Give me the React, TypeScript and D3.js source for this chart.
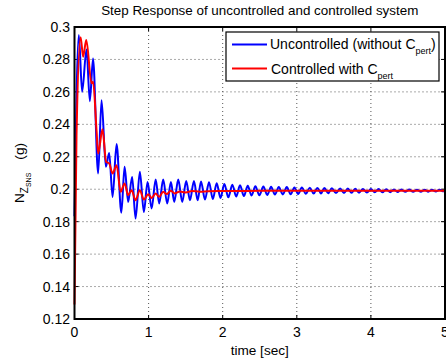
import React from "react";
import * as d3 from "d3";

const xTicks = [0, 1, 2, 3, 4, 5];
const yTicks = [0.12, 0.14, 0.16, 0.18, 0.2, 0.22, 0.24, 0.26, 0.28, 0.3];
const yTickLabels = ["0.12", "0.14", "0.16", "0.18", "0.2", "0.22", "0.24", "0.26", "0.28", "0.3"];

// Uncontrolled (blue) – extrema
const blueTime = [
  0, 0.058, 0.103, 0.162, 0.207, 0.25, 0.319, 0.365, 0.423, 0.468, 0.514, 0.568,
  0.632, 0.676, 0.724, 0.778, 0.824, 0.882, 0.936, 0.986, 1.041, 1.095, 1.143, 1.197,
  1.251, 1.301, 1.346, 1.4, 1.454, 1.508, 1.558, 1.612, 1.662,
  1.707, 1.761, 1.815, 1.867, 1.919, 1.97, 2.022, 2.076, 2.13, 2.182, 2.234, 2.286,
  2.338, 2.39, 2.441, 2.495, 2.549, 2.601, 2.653, 2.705, 2.757, 2.811, 2.865, 2.917,
  2.968, 3.018, 3.068, 3.122, 3.176, 3.227, 3.278, 3.326, 3.373, 3.423, 3.473, 3.529,
  3.585, 3.637, 3.689, 3.739, 3.788, 3.84, 3.892, 3.946, 4.0, 4.052, 4.103, 4.155,
  4.207, 4.259, 4.311, 4.36, 4.409, 4.464, 4.518, 4.57, 4.622, 4.674, 4.726, 4.775,
  4.824, 4.876, 4.927, 4.98, 5.0,
];
const blueValue = [
  0.1833, 0.2951, 0.2601, 0.2862, 0.2543, 0.2806, 0.2097, 0.2549, 0.2138, 0.2224, 0.1952, 0.2278,
  0.1855, 0.2138, 0.1922, 0.2076, 0.1819, 0.2107, 0.186, 0.2045, 0.1881, 0.206, 0.1912, 0.206,
  0.1912, 0.2045, 0.1922, 0.206, 0.1922, 0.2051, 0.1932, 0.2051, 0.1932,
  0.2048, 0.1936, 0.2043, 0.194, 0.2037, 0.1946, 0.2032, 0.195, 0.2028, 0.1955, 0.2024, 0.1958,
  0.2021, 0.1961, 0.2019, 0.1963, 0.2017, 0.1965, 0.2015, 0.1967, 0.2014, 0.1968, 0.2013, 0.1969,
  0.2011, 0.1971, 0.201, 0.1972, 0.2009, 0.1973, 0.2008, 0.1974, 0.2007, 0.1975, 0.2006, 0.1976,
  0.2005, 0.1977, 0.2004, 0.1978, 0.2003, 0.1979, 0.2002, 0.198, 0.2001, 0.1981, 0.2001, 0.1981,
  0.2, 0.1982, 0.1999, 0.1983, 0.1998, 0.1984, 0.1998, 0.1984, 0.1997, 0.1985, 0.1997, 0.1985,
  0.1996, 0.1986, 0.1996, 0.1987, 0.199,
];

// Controlled (red)
const redTime = [
  0, 0.027, 0.083, 0.116, 0.159, 0.23, 0.251, 0.297, 0.319, 0.378, 0.427, 0.468, 0.514,
  0.568, 0.622, 0.676, 0.724, 0.77, 0.824, 0.882, 0.936, 0.995, 1.041, 1.095, 1.143,
  1.197, 1.243, 1.301, 1.355, 1.42, 1.5, 1.585, 1.69, 1.8, 2.0, 2.5, 3.0, 4.0, 5.0,
];
const redValue = [
  0.129, 0.233, 0.2937, 0.2817, 0.292, 0.2653, 0.2662, 0.2364, 0.222, 0.237, 0.2169, 0.2159, 0.2097,
  0.2148, 0.1984, 0.2036, 0.1963, 0.1994, 0.1932, 0.1994, 0.1936, 0.1969, 0.1946, 0.1973, 0.1953,
  0.1984, 0.197, 0.199, 0.1974, 0.1986, 0.198, 0.1989, 0.1985, 0.1988, 0.1989, 0.199, 0.1991, 0.1991, 0.1991,
];

const W = 446;
const H = 360;
const left = 74.5;
const right = 445;
const top = 27;
const bottom = 319;
const FONT = "'Liberation Sans', Arial, Helvetica, sans-serif";

export default function App() {
  const x = d3.scaleLinear().domain([0, 5]).range([left, right]);
  const y = d3.scaleLinear().domain([0.12, 0.3]).range([bottom, top]);

  const zip = (ts: number[], vs: number[]) =>
    ts.slice(0, Math.min(ts.length, vs.length)).map((t, i) => [t, vs[i]] as [number, number]);

  const line = d3
    .line<[number, number]>()
    .x((d) => x(d[0]))
    .y((d) => y(d[1]))
    .curve(d3.curveMonotoneX);

  const bluePath = line(zip(blueTime, blueValue)) || "";
  const redPath = line(zip(redTime, redValue)) || "";

  const tickLen = 4;

  return (
    <svg
      width={W}
      height={H}
      style={{ position: "absolute", left: 0, top: 0, background: "#fff" }}
      fontFamily={FONT}
    >
      <rect x={0} y={0} width={W} height={H} fill="#fff" />
      {/* grid */}
      {xTicks.slice(1, -1).map((t) => (
        <line key={"gx" + t} x1={x(t)} x2={x(t)} y1={top} y2={bottom} stroke="#555" strokeWidth={1} strokeDasharray="1,3" />
      ))}
      {yTicks.slice(1, -1).map((t) => (
        <line key={"gy" + t} x1={left} x2={right} y1={y(t)} y2={y(t)} stroke="#555" strokeWidth={1} strokeDasharray="1,3" />
      ))}
      {/* ticks */}
      {xTicks.map((t) => (
        <g key={"tx" + t}>
          <line x1={x(t)} x2={x(t)} y1={bottom} y2={bottom - tickLen} stroke="#000" strokeWidth={1} />
          <line x1={x(t)} x2={x(t)} y1={top} y2={top + tickLen} stroke="#000" strokeWidth={1} />
          <text x={x(t)} y={337} fontSize={14} textAnchor="middle" fill="#000">
            {t}
          </text>
        </g>
      ))}
      {yTicks.map((t, i) => (
        <g key={"ty" + t}>
          <line x1={left} x2={left + tickLen} y1={y(t)} y2={y(t)} stroke="#000" strokeWidth={1} />
          <line x1={right} x2={right - tickLen} y1={y(t)} y2={y(t)} stroke="#000" strokeWidth={1} />
          <text x={70} y={y(t) + 5} fontSize={14} textAnchor="end" fill="#000">
            {yTickLabels[i]}
          </text>
        </g>
      ))}
      {/* data */}
      <path d={bluePath} fill="none" stroke="#0000ff" strokeWidth={2} strokeLinejoin="round" />
      <path d={redPath} fill="none" stroke="#ff0000" strokeWidth={2} strokeLinejoin="round" />
      {/* axes box */}
      <rect x={left} y={top} width={right - left} height={bottom - top} fill="none" stroke="#000" strokeWidth={2} />
      {/* title */}
      <text x={(left + right) / 2} y={15} fontSize={13.4} textAnchor="middle" fill="#000">
        Step Response of uncontrolled and controlled system
      </text>
      {/* x label */}
      <text x={(left + right) / 2} y={355} fontSize={13.6} textAnchor="middle" fill="#000">
        time [sec]
      </text>
      {/* y label */}
      <text transform={`translate(24,${(top + bottom) / 2}) rotate(-90)`} fontSize={13.6} textAnchor="middle" fill="#000">
        N
        <tspan fontSize={10} dy={4}>Z</tspan>
        <tspan fontSize={7} dy={3}>SNS</tspan>
        <tspan fontSize={13.6} dy={-7} dx={13}>(g)</tspan>
      </text>
      {/* legend */}
      <rect x={226} y={32} width={213} height={49} fill="#fff" stroke="#000" strokeWidth={1.2} />
      <line x1={232} x2={267} y1={44.5} y2={44.5} stroke="#0000ff" strokeWidth={2} />
      <line x1={232} x2={267} y1={68.5} y2={68.5} stroke="#ff0000" strokeWidth={2} />
      <text x={270} y={49} fontSize={14} fill="#000">
        Uncontrolled (without C
        <tspan fontSize={9} dy={5}>pert</tspan>
        <tspan dy={-5}>)</tspan>
      </text>
      <text x={271} y={73.5} fontSize={14} fill="#000">
        Controlled with C
        <tspan fontSize={9} dy={5}>pert</tspan>
      </text>
    </svg>
  );
}
